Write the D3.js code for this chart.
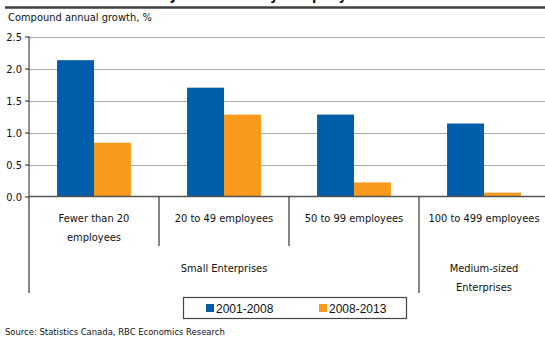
<!DOCTYPE html>
<html>
<head>
<meta charset="utf-8">
<script src="https://cdn.jsdelivr.net/npm/d3@7"></script>
<style>
  html, body { margin: 0; padding: 0; background: #fff; }
  svg { display: block; }
  .t { font-family: "DejaVu Sans Condensed", "DejaVu Sans", sans-serif; font-stretch: condensed; fill: #111; }
</style>
</head>
<body>
<svg id="chart" width="545" height="337"></svg>
<script>
// ---- data ----
const categories = ["Fewer than 20 employees", "20 to 49 employees", "50 to 99 employees", "100 to 499 employees"];
const categoryLines = [["Fewer than 20", "employees"], ["20 to 49 employees"], ["50 to 99 employees"], ["100 to 499 employees"]];
const series = ["2001-2008", "2008-2013"];
const values2001_2008 = [2.13, 1.70, 1.28, 1.14];
const values2008_2013 = [0.84, 1.28, 0.22, 0.06];
const yTicks = [0, 0.5, 1.0, 1.5, 2.0, 2.5];
const groups = [
  { label: ["Small Enterprises"], from: 0, to: 2 },
  { label: ["Medium-sized", "Enterprises"], from: 3, to: 3 }
];
const colors = ["#005DA9", "#F99A1C"];
const titleText = "Job creation by company size";
const yLabel = "Compound annual growth, %";
const sourceText = "Source: Statistics Canada, RBC Economics Research";

(function () {
// ---- layout ----
const svg = d3.select("#chart");
const mLeft = 29, mRight = 549, mTop = 36.5, mBottom = 196.5;

const x0 = d3.scaleBand().domain(categories).range([mLeft, mRight]).paddingInner(0).paddingOuter(0);
const x1 = d3.scaleBand().domain(series).range([0, x0.bandwidth()]).paddingOuter(0.76).paddingInner(0);
const y = d3.scaleLinear().domain([0, 2.5]).range([mBottom, mTop]);

// title (mostly cut off at top, as in the reference)
svg.append("text").attr("class", "t")
  .attr("x", 275).attr("y", -0.5)
  .attr("text-anchor", "middle")
  .style("font-weight", "bold").style("font-size", "14px")
  .text(titleText);

// top rule
svg.append("line").attr("x1", 5).attr("x2", 545).attr("y1", 7.5).attr("y2", 7.5)
  .attr("stroke", "#3f3f3f").attr("stroke-width", 2.5);

// y label
svg.append("text").attr("class", "t")
  .attr("x", 8).attr("y", 21)
  .style("font-size", "11px")
  .text(yLabel);

// gridlines
svg.append("g").selectAll("line").data(yTicks.filter(d => d > 0)).join("line")
  .attr("x1", mLeft).attr("x2", 545)
  .attr("y1", d => Math.round(y(d)) + 0.5).attr("y2", d => Math.round(y(d)) + 0.5)
  .attr("stroke", "#a9a9a9").attr("stroke-width", 1);

// y axis
const yAxis = d3.axisLeft(y).tickValues(yTicks).tickFormat(d3.format(".1f")).tickSize(4).tickPadding(3);
const gy = svg.append("g").attr("transform", `translate(${mLeft},0)`).call(yAxis);
gy.select(".domain").attr("stroke", "#222").attr("d", `M0,${mTop}V${mBottom}`);
gy.selectAll(".tick line").attr("stroke", "#222");
gy.selectAll(".tick text").attr("class", "t").style("font-size", "11px").attr("fill", "#111");

// bars
const data = categories.map((c, i) => ({ cat: c, vals: [values2001_2008[i], values2008_2013[i]] }));
const g = svg.append("g").selectAll("g").data(data).join("g")
  .attr("transform", d => `translate(${x0(d.cat)},0)`);
g.selectAll("rect").data(d => d.vals.map((v, j) => ({ s: series[j], v, j }))).join("rect")
  .attr("x", d => x1(d.s))
  .attr("width", x1.bandwidth())
  .attr("y", d => y(d.v))
  .attr("height", d => y(0) - y(d.v))
  .attr("fill", d => colors[d.j]);

// zero line
svg.append("line").attr("x1", mLeft).attr("x2", 545).attr("y1", y(0)).attr("y2", y(0))
  .attr("stroke", "#555").attr("stroke-width", 1.5);

// separators under axis
const sepBottomShort = 246, sepBottomLong = 293;
categories.forEach((c, i) => {
  const bx = x0(c);
  const isGroupEdge = groups.some(gr => gr.from === i);
  svg.append("line").attr("x1", bx).attr("x2", bx)
    .attr("y1", y(0)).attr("y2", isGroupEdge ? sepBottomLong : sepBottomShort)
    .attr("stroke", "#444").attr("stroke-width", 1.3);
});

// category labels
categories.forEach((c, i) => {
  const cx = x0(c) + x0.bandwidth() / 2;
  const t = svg.append("text").attr("class", "t").attr("text-anchor", "middle").style("font-size", "11px");
  categoryLines[i].forEach((ln, k) => {
    t.append("tspan").attr("x", cx).attr("y", 222 + k * 19).text(ln);
  });
});

// group labels
groups.forEach(gr => {
  const gx0 = x0(categories[gr.from]);
  const gx1 = x0(categories[gr.to]) + x0.bandwidth();
  const cx = gr.to === categories.length - 1 ? x0(categories[gr.to]) + x0.bandwidth() / 2 : (gx0 + gx1) / 2;
  const t = svg.append("text").attr("class", "t").attr("text-anchor", "middle").style("font-size", "11px");
  gr.label.forEach((ln, k) => {
    t.append("tspan").attr("x", cx).attr("y", 272 + k * 19).text(ln);
  });
});

// legend
const lg = svg.append("g");
lg.append("rect").attr("x", 183.5).attr("y", 297.5).attr("width", 223).attr("height", 21)
  .attr("fill", "#fff").attr("stroke", "#444").attr("stroke-width", 1.2);
const legendX = [206, 319];
series.forEach((s, i) => {
  lg.append("rect").attr("x", legendX[i]).attr("y", 304).attr("width", 8).attr("height", 8).attr("fill", colors[i]);
  lg.append("text").attr("x", legendX[i] + 10).attr("y", 312.5)
    .style("font-family", "'Liberation Sans', Arial, sans-serif").style("font-size", "12px").attr("fill", "#111")
    .text(s);
});

// source
svg.append("text").attr("class", "t")
  .attr("x", 5).attr("y", 335)
  .style("font-size", "9.4px")
  .text(sourceText);
})();
</script>
</body>
</html>
